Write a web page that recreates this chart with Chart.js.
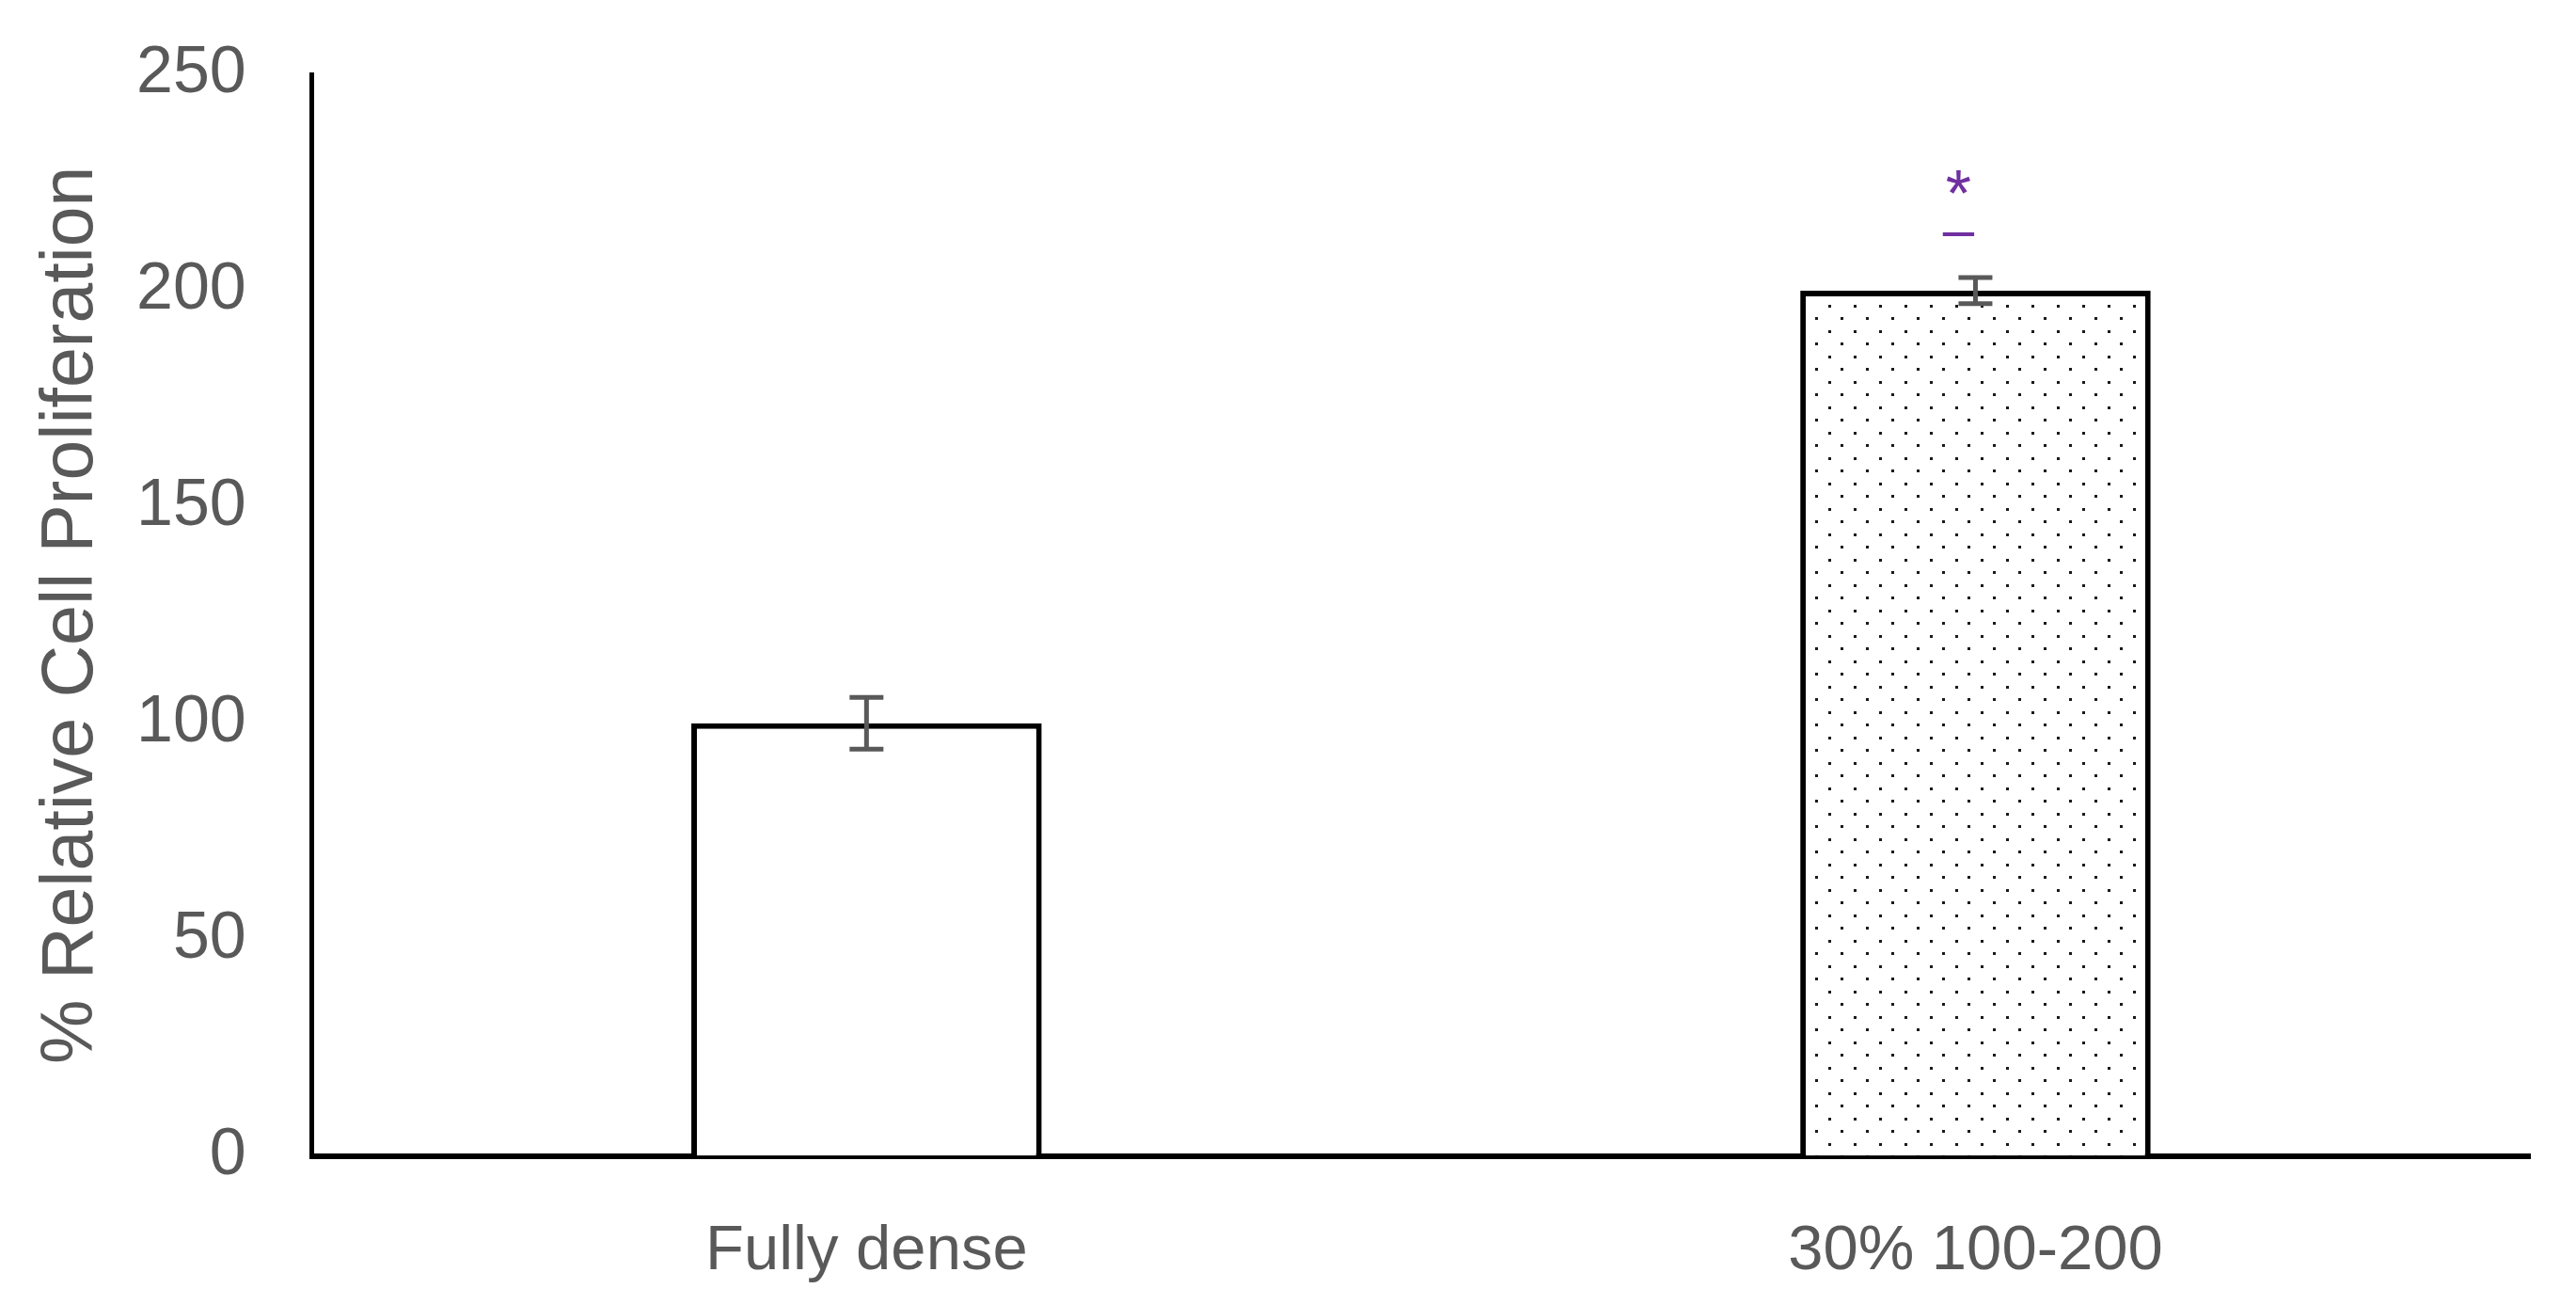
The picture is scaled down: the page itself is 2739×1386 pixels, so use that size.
<!DOCTYPE html>
<html>
<head>
<meta charset="utf-8">
<script src="https://cdn.jsdelivr.net/npm/chart.js@4/dist/chart.umd.min.js"></script>
<style>
  html, body { margin: 0; padding: 0; background: #fff; }
  #wrap { width: 2739px; height: 1386px; position: relative; }
</style>
</head>
<body>
<div id="wrap"><canvas id="prolifChart"></canvas></div>
<script>
// --- data ---
const categories = ["Fully dense", "30% 100-200"];
const values = [100, 200];
const errors = [6, 3];
const sigMarks = ["", "*"];
const yTicks = [0, 50, 100, 150, 200, 250];
const yTitle = "% Relative Cell Proliferation";

const textGrey = "#595959";
const sigPurple = "#7030A0";
const fontFamily = "'Liberation Sans', Arial, sans-serif";

// --- dotted fill like the original ---
function makeDotPattern() {
    const c = document.createElement("canvas");
    c.width = 27;
    c.height = 27;
    const g = c.getContext("2d");
    g.fillStyle = "#ffffff";
    g.fillRect(0, 0, 27, 27);
    g.fillStyle = "#1a1a1a";
    g.fillRect(0, 0, 3, 3);
    g.fillRect(13, 13, 3, 3);
    return g.createPattern(c, "repeat");
}

// error bars (mean +/- err) drawn through the y scale
const errorBars = {
    id: "errorBars",
    afterDatasetsDraw(chart) {
        const { ctx, scales } = chart;
        const meta = chart.getDatasetMeta(0);
        ctx.save();
        ctx.strokeStyle = textGrey;
        ctx.lineWidth = 5;
        meta.data.forEach((bar, i) => {
            const x = bar.x;
            const yTop = scales.y.getPixelForValue(values[i] + errors[i]);
            const yBot = scales.y.getPixelForValue(values[i] - errors[i]);
            const half = 18;
            ctx.beginPath();
            ctx.moveTo(x, yTop);
            ctx.lineTo(x, yBot);
            ctx.moveTo(x - half, yTop);
            ctx.lineTo(x + half, yTop);
            ctx.moveTo(x - half, yBot);
            ctx.lineTo(x + half, yBot);
            ctx.stroke();
        });
        ctx.restore();
    },
};

// significance mark: "*" with a dash under it, above the error bar
const sigLabels = {
    id: "sigLabels",
    afterDatasetsDraw(chart) {
        const { ctx, scales } = chart;
        const meta = chart.getDatasetMeta(0);
        ctx.save();
        ctx.fillStyle = sigPurple;
        ctx.textAlign = "center";
        ctx.textBaseline = "alphabetic";
        meta.data.forEach((bar, i) => {
            if (!sigMarks[i]) return;
            const x = bar.x - 18;
            const yErr = scales.y.getPixelForValue(values[i] + errors[i]);
            const drawCentered = (txt, size, cy) => {
                ctx.font = size + "px " + fontFamily;
                const m = ctx.measureText(txt);
                const base = cy + (m.actualBoundingBoxAscent - m.actualBoundingBoxDescent) / 2;
                ctx.fillText(txt, x, base);
            };
            drawCentered(sigMarks[i], 70, yErr - 102);
            drawCentered("\u2013", 60, yErr - 46);
        });
        ctx.restore();
    },
};

// rotated y-axis title, placed by hand so the tick gap matches
const yTitlePlugin = {
    id: "yTitle",
    afterDraw(chart) {
        const { ctx, chartArea } = chart;
        ctx.save();
        ctx.translate(77, (chartArea.top + chartArea.bottom) / 2);
        ctx.rotate(-Math.PI / 2);
        ctx.fillStyle = textGrey;
        ctx.font = "77px " + fontFamily;
        ctx.textAlign = "center";
        ctx.textBaseline = "middle";
        ctx.fillText(yTitle, 0, 0);
        ctx.restore();
    },
};

function createChart() {
    const ctx = document.getElementById("prolifChart");
    return new Chart(ctx, {
        type: "bar",
        data: {
            labels: categories,
            datasets: [
                {
                    data: values,
                    backgroundColor: ["#ffffff", makeDotPattern()],
                    borderColor: "#000000",
                    borderWidth: 6,
                    borderSkipped: "bottom",
                    categoryPercentage: 1,
                    barPercentage: 0.316,
                },
            ],
        },
        options: {
            responsive: true,
            maintainAspectRatio: false,
            animation: false,
            layout: { padding: { top: 79, right: 49, bottom: -47, left: 75 } },
            plugins: {
                legend: { display: false },
                tooltip: { enabled: false },
            },
            scales: {
                x: {
                    grid: { display: false, drawTicks: false },
                    border: { display: true, color: "#000000", width: 6 },
                    ticks: {
                        color: textGrey,
                        font: { family: fontFamily, size: 67 },
                        padding: 62,
                    },
                    afterFit(scale) {
                        scale.paddingLeft = 0;
                        scale.paddingRight = 0;
                    },
                },
                y: {
                    min: 0,
                    max: 250,
                    afterBuildTicks(scale) {
                        scale.ticks = yTicks.map((v) => ({ value: v }));
                    },
                    grid: { display: false, drawTicks: false },
                    border: { display: true, color: "#000000", width: 5 },
                    ticks: {
                        color: textGrey,
                        font: { family: fontFamily, size: 70 },
                        padding: 70,
                    },
                    afterFit(scale) {
                        scale.paddingTop = 0;
                        scale.paddingBottom = 0;
                    },
                },
            },
        },
        plugins: [errorBars, sigLabels, yTitlePlugin],
    });
}

createChart();
</script>
</body>
</html>
